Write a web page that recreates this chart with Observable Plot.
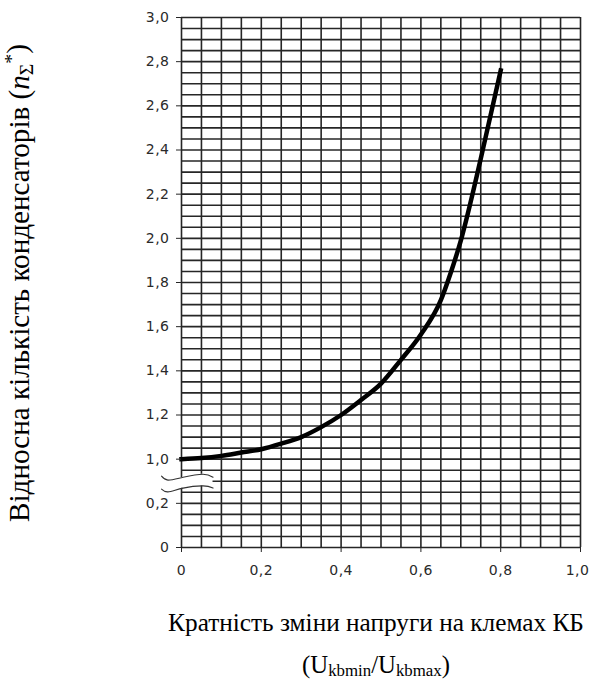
<!DOCTYPE html>
<html>
<head>
<meta charset="utf-8">
<script src="https://cdn.jsdelivr.net/npm/d3@7"></script>
<script src="https://cdn.jsdelivr.net/npm/@observablehq/plot@0.6"></script>
<style>
  html, body { margin: 0; padding: 0; background: #fff; }
  svg { display: block; }
</style>
</head>
<body>
<div id="chart"></div>
<script>
// Voltage change ratio (x) and relative number of capacitors (y, real values)
const ratio = [0, 0.05, 0.1, 0.15, 0.2, 0.25, 0.3, 0.35, 0.4, 0.45, 0.5, 0.55, 0.6, 0.65, 0.675, 0.7, 0.75, 0.8];
const nSum  = [1.0, 1.005, 1.015, 1.03, 1.045, 1.07, 1.10, 1.145, 1.2, 1.268, 1.342, 1.45, 1.565, 1.72, 1.845, 1.99, 2.36, 2.76];

// Broken y axis: values >= 1.0 are shifted down by this amount
const axisBreakShift = 0.6;
const xTickValues = [0, 0.2, 0.4, 0.6, 0.8, 1.0];
const xTickLabels = ["0", "0,2", "0,4", "0,6", "0,8", "1,0"];
const yTickValues = [0, 0.2, 0.4, 0.6, 0.8, 1.0, 1.2, 1.4, 1.6, 1.8, 2.0, 2.2, 2.4];
const yTickLabels = ["0", "0,2", "1,0", "1,2", "1,4", "1,6", "1,8", "2,0", "2,2", "2,4", "2,6", "2,8", "3,0"];

// Axis-break symbol (two wavy strokes), in display units
const breakX     = [-0.05, -0.034, 0.004, 0.054, 0.079];
const breakUpper = [0.323, 0.305, 0.318, 0.332, 0.318];
const breakLower = [0.264, 0.252, 0.269, 0.279, 0.269];

const gridX = d3.range(0, 21).map(i => i * 0.05);
const gridY = d3.range(0, 49).map(i => i * 0.05);

const curveData = ratio.map((x, i) => ({x, y: nSum[i] - axisBreakShift * (nSum[i] >= 1 ? 1 : 0)}));
const breakData = breakX.map((x, i) => ({x, hi: breakUpper[i], lo: breakLower[i]}));

const gridStroke = "#262626";
const serif = "'Liberation Serif', 'DejaVu Serif', 'Times New Roman', serif";

const chart = Plot.plot({
  width: 589,
  height: 681,
  marginLeft: 181,
  marginRight: 9,
  marginTop: 17,
  marginBottom: 134,
  style: {background: "#fff", fontFamily: "DejaVu Sans", fontSize: "14px", color: "#2a2a2a"},
  x: {domain: [0, 1]},
  y: {domain: [0, 2.4]},
  marks: [
    Plot.ruleX(gridX, {x: d => d, stroke: gridStroke, strokeWidth: 1.6}),
    Plot.ruleY(gridY, {y: d => d, stroke: gridStroke, strokeWidth: 1.6}),
    Plot.areaY(breakData, {x: "x", y1: "lo", y2: "hi", fill: "#fff", curve: "natural"}),
    Plot.line(breakData, {x: "x", y: "hi", stroke: "#333", strokeWidth: 1.1, curve: "natural"}),
    Plot.line(breakData, {x: "x", y: "lo", stroke: "#333", strokeWidth: 1.1, curve: "natural"}),
    Plot.line(curveData, {x: "x", y: "y", stroke: "#000", strokeWidth: 4.5, curve: "monotone-x", strokeLinecap: "square"}),
    Plot.axisX({ticks: xTickValues, tickFormat: (d, i) => xTickLabels[i], tickSize: 5, tickPadding: 13, label: null, stroke: gridStroke}),
    Plot.axisY({ticks: yTickValues, tickFormat: (d, i) => yTickLabels[i], tickSize: 5, tickPadding: 7, label: null, stroke: gridStroke})
  ]
});

document.getElementById("chart").appendChild(chart);
const svg = d3.select(chart);
svg.selectAll("[aria-label='x-axis tick label'] text, [aria-label='y-axis tick label'] text")
  .attr("letter-spacing", "0.5px");
// keep the last x tick label inside the window
svg.selectAll("[aria-label='x-axis tick label'] text")
  .filter((d, i, nodes) => i === nodes.length - 1)
  .attr("dx", -3);

function fitLength(sel, target) {
  const len = sel.node().getComputedTextLength();
  const fs = parseFloat(sel.style("font-size"));
  if (len > 0) sel.style("font-size", (fs * target / len) + "px");
}

// X-axis title
const xl = svg.append("text")
  .attr("x", 376).attr("y", 631)
  .attr("text-anchor", "middle")
  .style("font-family", serif)
  .style("font-size", "21px")
  .attr("fill", "#000")
  .text("Кратність зміни напруги на клемах КБ");
fitLength(xl, 416);

// Subtitle with subscripts
const sub = svg.append("text")
  .attr("x", 376).attr("y", 673)
  .attr("text-anchor", "middle")
  .style("font-family", serif)
  .style("font-size", "21px")
  .attr("fill", "#000");
sub.append("tspan").text("(U");
sub.append("tspan").style("font-size", "0.68em").attr("dy", "0.18em").text("kbmin");
sub.append("tspan").attr("dy", "-0.12em").text("/U");
sub.append("tspan").style("font-size", "0.68em").attr("dy", "0.18em").text("kbmax");
sub.append("tspan").attr("dy", "-0.12em").text(")");
fitLength(sub, 148);

// Y-axis title (rotated)
const yl = svg.append("text")
  .attr("transform", "translate(29,283) rotate(-90)")
  .attr("text-anchor", "middle")
  .style("font-family", serif)
  .style("font-size", "21px")
  .attr("fill", "#000");
yl.append("tspan").text("Відносна кількість конденсаторів (");
yl.append("tspan").style("font-style", "italic").text("n");
yl.append("tspan").style("font-size", "0.68em").attr("dy", "0.2em").text("Σ");
yl.append("tspan").style("font-size", "0.68em").attr("dy", "-0.75em").text("*");
yl.append("tspan").attr("dy", "0.3em").text(")");
fitLength(yl, 478);
</script>
</body>
</html>
